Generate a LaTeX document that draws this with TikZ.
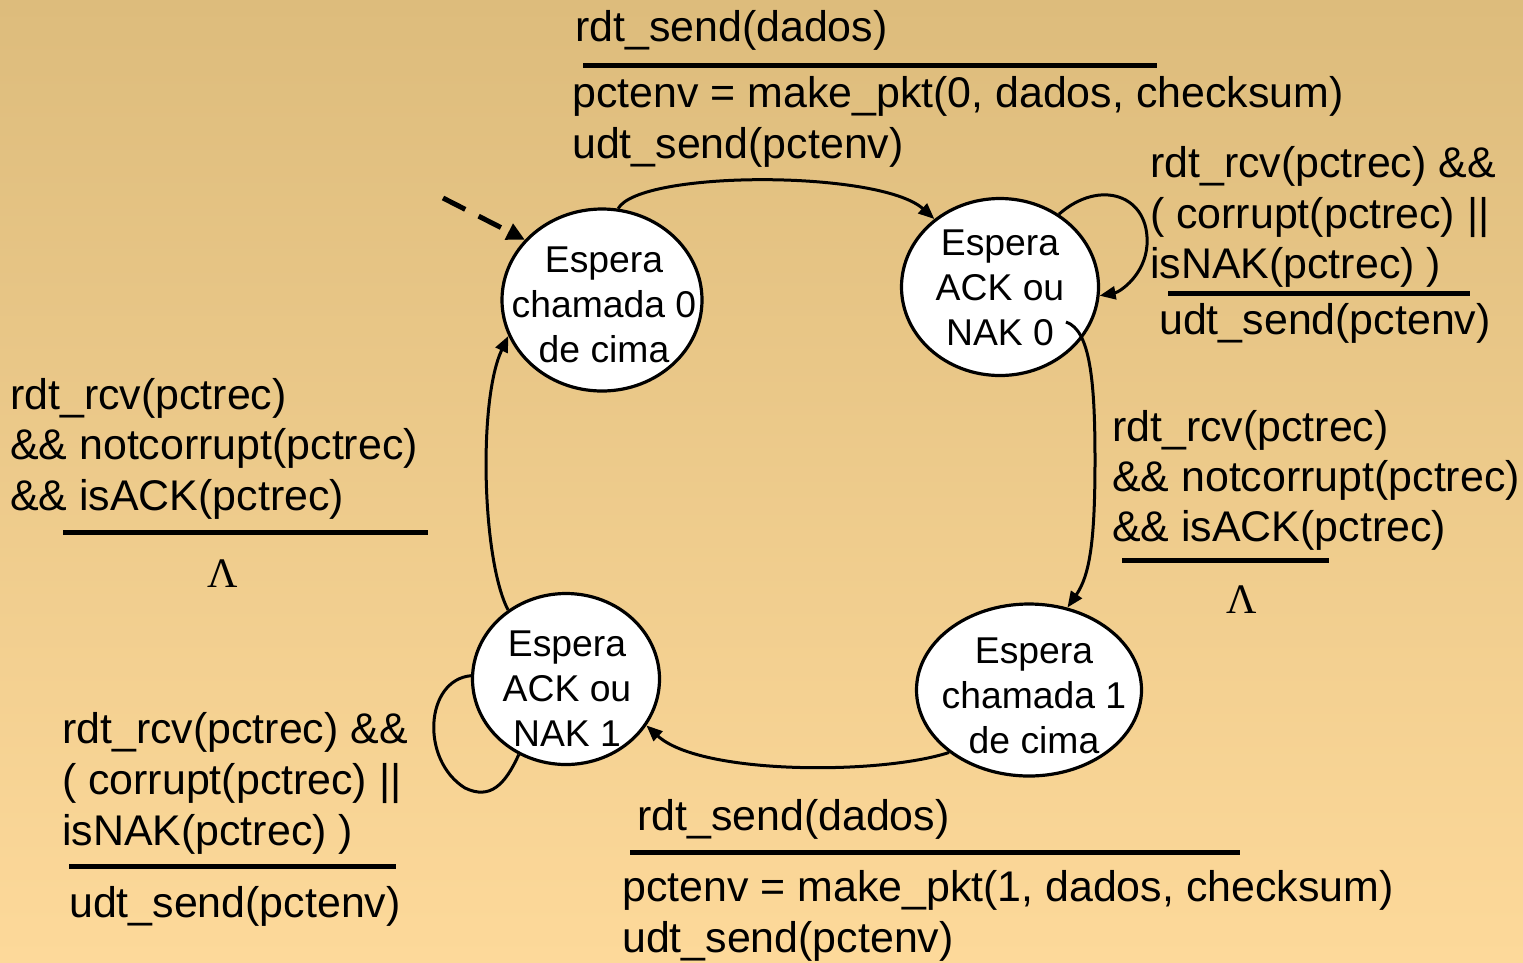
\documentclass[tikz,border=0pt]{standalone}
\usepackage{fontspec}
\setmainfont{Liberation Sans}
\newfontfamily\lambdafont{Liberation Serif}
\usetikzlibrary{shapes.geometric,arrows.meta}
\definecolor{bgtop}{RGB}{221,188,124}
\definecolor{bgbot}{RGB}{253,217,154}
\tikzset{
  state/.style={ellipse, draw, line width=3.2pt, fill=white, inner sep=0pt},
  stext/.style={align=center, font=\fontsize{37.3}{45}\selectfont, inner sep=0pt},
  lbl/.style={font=\fontsize{42.9}{51}\selectfont, anchor=base west, inner sep=0pt},
  lam/.style={font=\lambdafont\fontsize{42}{50}\selectfont, anchor=base, inner sep=0pt},
  trans/.style={line width=3pt, -{Triangle[length=16pt,width=13pt]}},
  loopline/.style={line width=3pt},
  initarrow/.style={line width=5pt, dash pattern=on 25pt off 15pt,
    -{Triangle[length=18pt,width=17pt]}},
  bar/.style={line width=5pt}
}
\begin{document}
\begin{tikzpicture}[x=1pt,y=-1pt]
% background
\fill[top color=bgtop, bottom color=bgbot] (0,0) rectangle (1523,962);
\useasboundingbox (0,0) rectangle (1523,962);

% states
\node[state, minimum width=200pt, minimum height=182pt,
  label={[stext, yshift=-5pt, xshift=2pt]center:{Espera\\chamada 0\\de cima}}] (s0) at (602,300) {};
\node[state, minimum width=197pt, minimum height=177pt,
  label={[stext, yshift=-1pt]center:{Espera\\ACK ou\\NAK 0}}] (a0) at (1000,287) {};
\node[state, minimum width=187pt, minimum height=171pt,
  label={[stext, yshift=-10pt, xshift=1pt]center:{Espera\\ACK ou\\NAK 1}}] (a1) at (566,679) {};
\node[state, minimum width=225pt, minimum height=172pt,
  label={[stext, yshift=-6pt, xshift=5pt]center:{Espera\\chamada 1\\de cima}}] (s1) at (1029,690) {};

% free ends
\coordinate (init) at (443,198);
\coordinate (a0out) at (1066,322);

% transitions
\draw[initarrow] (init) -- (s0.142);
\draw[trans] (s0.80) .. controls (640,170) and (880,170) .. (a0.134);
\draw[trans] (a0.51) .. controls (1100,178) and (1150,195) .. (1147,245)
  .. controls (1145,275) and (1120,292) .. (a0.355);
\draw[trans] (a0out) .. controls (1090,330) and (1095,380) .. (1095,460)
  .. controls (1095,540) and (1090,575) .. (s1.65);
\draw[trans] (s1.218) .. controls (880,775) and (700,775) .. (a1.330);
\draw[loopline] (a1.178) .. controls (425,680) and (420,760) .. (465,788)
  .. controls (490,800) and (505,785) .. (a1.238);
\draw[trans] (a1.130) .. controls (482,560) and (478,400) .. (s0.201);

% top transition label
\node[lbl] (t1) at (575,41) {rdt\_send(dados)};
\draw[bar] (583,65) -- (1157,65);
\node[lbl] (t2) at (572,107) {pctenv = make\_pkt(0, dados, checksum)};
\node[lbl] (t3) at (572,158) {udt\_send(pctenv)};

% self loop on ACK/NAK 0
\node[lbl] (r1) at (1150,177) {rdt\_rcv(pctrec) \&\&};
\node[lbl] (r2) at (1150,228) {( corrupt(pctrec) ||};
\node[lbl] (r3) at (1150,278) {isNAK(pctrec) )};
\draw[bar] (1168,293) -- (1470,293);
\node[lbl] (r4) at (1159,334) {udt\_send(pctenv)};

% right transition label
\node[lbl] (m1) at (1112,441) {rdt\_rcv(pctrec)};
\node[lbl] (m2) at (1112,491) {\&\& notcorrupt(pctrec)};
\node[lbl] (m3) at (1112,541) {\&\& isACK(pctrec)};
\draw[bar] (1122,560) -- (1329,560);
\node[lam] (m4) at (1242,613) {Λ};

% left transition label
\node[lbl] (l1) at (10,409) {rdt\_rcv(pctrec)};
\node[lbl] (l2) at (10,459) {\&\& notcorrupt(pctrec)};
\node[lbl] (l3) at (10,510) {\&\& isACK(pctrec)};
\draw[bar] (63,532) -- (428,532);
\node[lam] (l4) at (223,587) {Λ};

% self loop on ACK/NAK 1
\node[lbl] (b1) at (62,743) {rdt\_rcv(pctrec) \&\&};
\node[lbl] (b2) at (62,794) {( corrupt(pctrec) ||};
\node[lbl] (b3) at (62,845) {isNAK(pctrec) )};
\draw[bar] (69,866) -- (396,866);
\node[lbl] (b4) at (69,917) {udt\_send(pctenv)};

% bottom transition label
\node[lbl] (u1) at (637,830) {rdt\_send(dados)};
\draw[bar] (630,852) -- (1240,852);
\node[lbl] (u2) at (622,901) {pctenv = make\_pkt(1, dados, checksum)};
\node[lbl] (u3) at (622,952) {udt\_send(pctenv)};
\end{tikzpicture}
\end{document}
